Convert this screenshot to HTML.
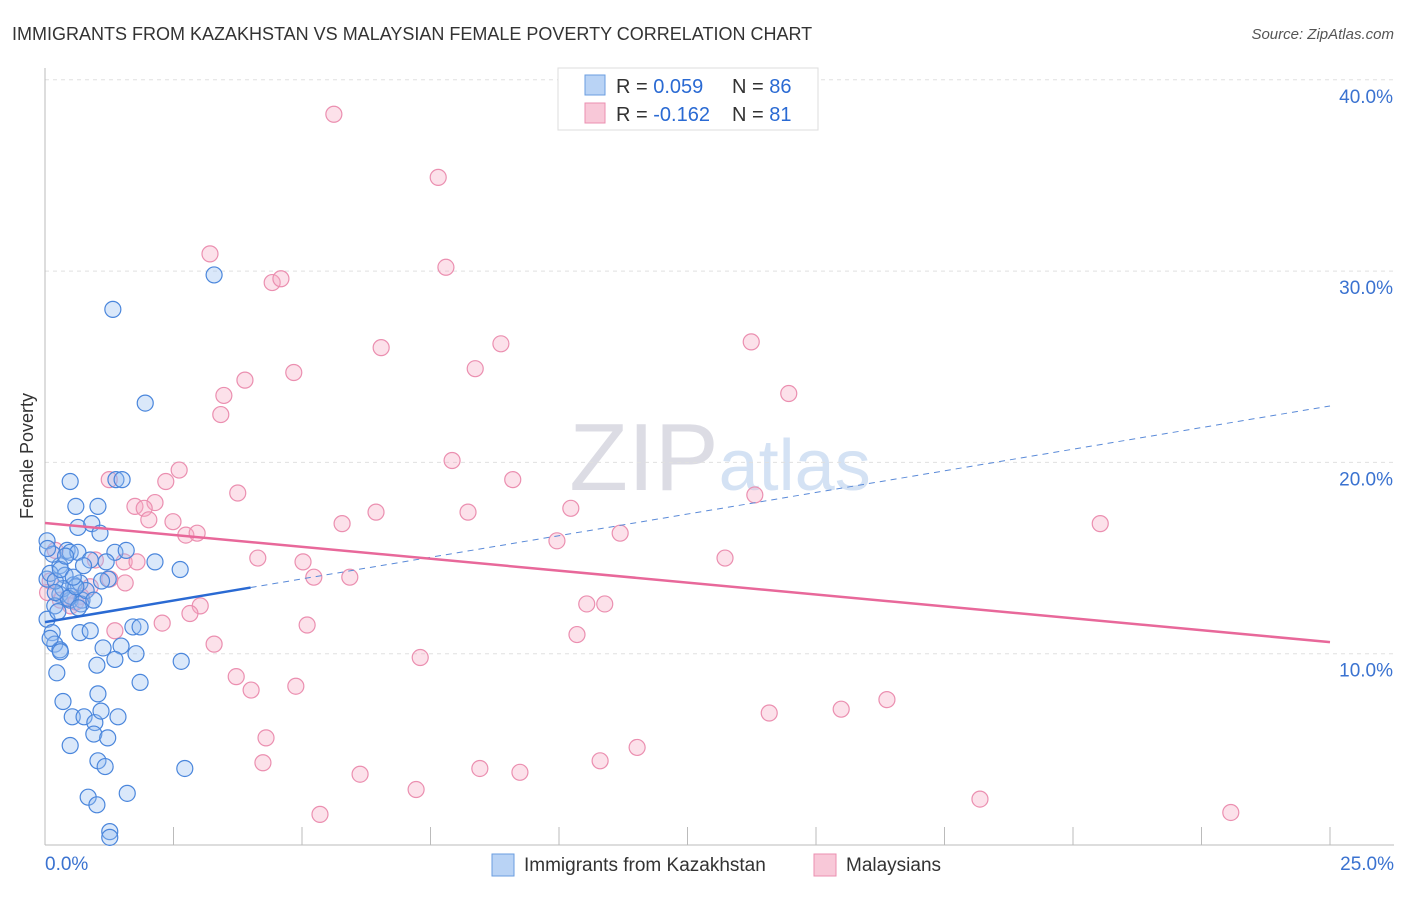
<!DOCTYPE html>
<html><head><meta charset="utf-8"><style>
body{margin:0;background:#fff;font-family:"Liberation Sans",sans-serif}
svg text{font-family:"Liberation Sans",sans-serif}
</style></head><body>
<svg id="c" width="1406" height="892">
<text x="12" y="40" font-size="18" fill="#333">IMMIGRANTS FROM KAZAKHSTAN VS MALAYSIAN FEMALE POVERTY CORRELATION CHART</text>
<text x="1394" y="39" font-size="15" fill="#555" font-style="italic" text-anchor="end">Source: ZipAtlas.com</text>
<text x="33" y="456" font-size="18" fill="#333" text-anchor="middle" transform="rotate(-90 33 456)">Female Poverty</text>
<text x="720" y="490" font-size="96" fill="#e8e8ee" text-anchor="middle" font-family="Liberation Serif"><tspan fill="#dcdce4">ZIP</tspan><tspan fill="#d4e2f4" font-family="Liberation Sans" font-size="72">atlas</tspan></text>
<g id="grid"></g><g id="pts"></g><g id="trend"></g>
<g>
<rect x="558" y="68" width="260" height="62" fill="#fff" stroke="#ddd"/>
<rect x="585" y="75" width="20" height="20" fill="#b9d3f5" stroke="#6a9ee0"/>
<rect x="585" y="103" width="20" height="20" fill="#f8c8d8" stroke="#eb8fb0"/>
<text x="616" y="93" font-size="20" fill="#333">R = <tspan fill="#2a6ad3">0.059</tspan></text>
<text x="732" y="93" font-size="20" fill="#333">N = <tspan fill="#2a6ad3">86</tspan></text>
<text x="616" y="121" font-size="20" fill="#333">R = <tspan fill="#2a6ad3">-0.162</tspan></text>
<text x="732" y="121" font-size="20" fill="#333">N = <tspan fill="#2a6ad3">81</tspan></text>
</g>
<g>
<rect x="492" y="854" width="22" height="22" fill="#b9d3f5" stroke="#6a9ee0"/>
<text x="524" y="871" font-size="19" fill="#333">Immigrants from Kazakhstan</text>
<rect x="814" y="854" width="22" height="22" fill="#f8c8d8" stroke="#eb8fb0"/>
<text x="846" y="871" font-size="19" fill="#333">Malaysians</text>
</g>
</svg>
<script>
const yTicks=[10,20,30,40];
const yTickLabels=["10.0%","20.0%","30.0%","40.0%"];
const xTickLabels=["0.0%","25.0%"];
const blueX=[0.49,0.6,1.03,1.38,1.5,0.64,0.91,1.07,0.04,0.43,0.49,0.64,1.36,1.58,2.14,0.88,1.19,0.29,0.04,0.39,0.56,0.68,1.23,2.63,0.29,0.49,0.72,0.19,0.04,0.14,0.68,0.88,1.71,1.85,0.19,0.29,1.13,1.48,1.77,1.36,1.01,2.65,0.23,1.85,0.35,1.03,0.53,0.76,0.97,1.09,1.42,0.95,1.22,0.49,1.03,1.17,2.72,0.84,1.01,1.6,1.26,1.26,1.32,1.95,3.29,0.1,0.35,0.5,0.7,0.8,0.2,0.3,0.45,0.6,0.15,0.25,0.55,0.65,0.1,0.4,0.95,1.1,0.05,0.3,0.75,0.2];
const blueY=[19.0,17.7,17.7,19.1,19.1,16.6,16.8,16.3,15.9,15.4,15.3,15.3,15.3,15.4,14.8,14.9,14.8,14.6,13.9,14.1,13.6,13.7,13.9,14.4,13.1,12.8,12.8,12.5,11.8,11.1,11.1,11.2,11.4,11.4,10.5,10.2,10.3,10.4,10.0,9.7,9.4,9.6,9.0,8.5,7.5,7.9,6.7,6.7,6.4,7.0,6.7,5.8,5.6,5.2,4.4,4.1,4.0,2.5,2.1,2.7,0.7,0.4,28.0,23.1,29.8,14.2,13.4,13.0,12.6,13.3,13.8,14.4,12.9,13.5,15.2,12.2,14.0,12.4,10.8,15.1,12.8,13.8,15.5,10.1,14.6,13.2];
const pinkX=[5.62,7.65,3.21,7.8,4.42,4.59,6.54,8.87,13.74,4.84,8.37,3.89,3.48,14.47,3.42,7.92,2.61,9.1,2.35,1.25,3.75,13.81,1.75,2.14,1.93,6.44,8.23,10.23,2.02,2.49,5.78,20.53,2.74,2.96,11.19,9.96,0.98,1.54,4.14,5.02,13.23,1.79,1.56,5.23,5.93,0.88,1.26,3.02,2.82,10.54,10.89,2.28,5.1,1.36,10.35,3.29,7.3,3.72,4.01,4.88,16.38,15.49,14.09,4.3,11.52,4.24,10.8,8.46,9.24,6.13,7.22,18.19,23.07,5.35,0.3,0.5,0.7,0.1,0.2,0.6,0.05];
const pinkY=[38.2,34.9,30.9,30.2,29.4,29.6,26.0,26.2,26.3,24.7,24.9,24.3,23.5,23.6,22.5,20.1,19.6,19.1,19.0,19.1,18.4,18.3,17.7,17.9,17.6,17.4,17.4,17.6,17.0,16.9,16.8,16.8,16.2,16.3,16.3,15.9,14.9,14.8,15.0,14.8,15.0,14.8,13.7,14.0,14.0,13.5,13.9,12.5,12.1,12.6,12.6,11.6,11.5,11.2,11.0,10.5,9.8,8.8,8.1,8.3,7.6,7.1,6.9,5.6,5.1,4.3,4.4,4.0,3.8,3.7,2.9,2.4,1.7,1.6,12.8,12.5,13.0,13.8,15.4,12.7,13.2];
const blueTrend=[11.65,0.452];
const pinkTrend=[16.83,-0.249];
const NS="http://www.w3.org/2000/svg";
const X=v=>45+v/25*1285, Y=v=>845-v*19.13;
function mk(t,a,p){const e=document.createElementNS(NS,t);for(const k in a)e.setAttribute(k,a[k]);p.appendChild(e);return e;}
const g=document.getElementById('grid');
yTicks.forEach((t,i)=>{
 const l=mk('line',{x1:45,x2:1394,y1:Y(t),y2:Y(t),stroke:'#e0e0e0','stroke-dasharray':'4,4'},g);
 
 
 const tx=mk('text',{x:1393,y:Y(t)+23,'font-size':19,fill:'#3a72d0','text-anchor':'end'},g);tx.textContent=yTickLabels[i];
 
 
});
mk('line',{x1:45,x2:45,y1:68,y2:845,stroke:'#bbb'},g);
mk('line',{x1:45,x2:1394,y1:845,y2:845,stroke:'#bbb'},g);
for(let i=0;i<=10;i++){const x=X(i*2.5);mk('line',{x1:x,x2:x,y1:827,y2:845,stroke:'#bbb'},g);}
[[0,45,'start'],[1,1394,'end']].forEach(([i,x,a])=>{const t=mk('text',{x:x,y:870,'font-size':19,fill:'#3a72d0','text-anchor':a},g);t.textContent=xTickLabels[i];
 
 });
const p=document.getElementById('pts');
pinkX.forEach((v,i)=>{const c=mk('circle',{cx:X(v),cy:Y(pinkY[i]),r:8,fill:'rgba(245,170,195,0.35)',stroke:'#eb8fb0','stroke-width':1.2},p);
 
 });
blueX.forEach((v,i)=>{const c=mk('circle',{cx:X(v),cy:Y(blueY[i]),r:8,fill:'rgba(150,190,240,0.35)',stroke:'#4a86dc','stroke-width':1.2},p);
 
 });
const tr=document.getElementById('trend');
const bf=x=>blueTrend[0]+blueTrend[1]*x, pf=x=>pinkTrend[0]+pinkTrend[1]*x;
let l=mk('line',{x1:X(0),y1:Y(bf(0)),x2:X(4),y2:Y(bf(4)),stroke:'#2a6ad3','stroke-width':2.5},tr);


l=mk('line',{x1:X(4),y1:Y(bf(4)),x2:X(25),y2:Y(bf(25)),stroke:'#5a8ad8','stroke-width':1,'stroke-dasharray':'6,5'},tr);


l=mk('line',{x1:X(0),y1:Y(pf(0)),x2:X(25),y2:Y(pf(25)),stroke:'#e8689a','stroke-width':2.5},tr);


</script>
</body></html>
